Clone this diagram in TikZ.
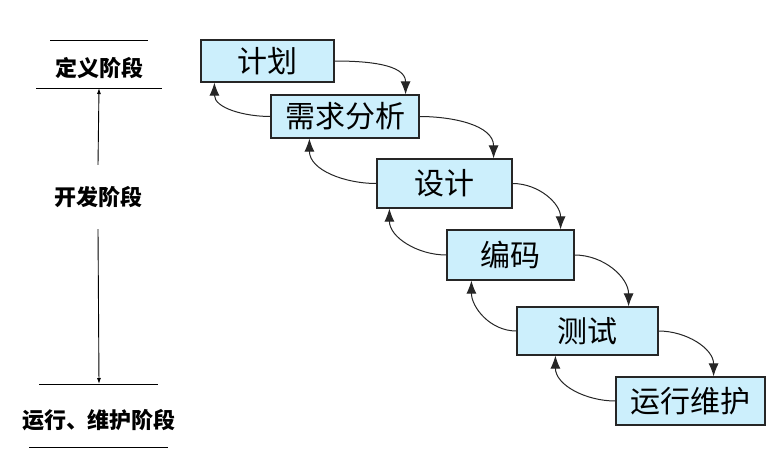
\documentclass[tikz,border=0pt]{standalone}
\usepackage{fontspec}
\setmainfont{Noto Sans CJK SC}
\usetikzlibrary{arrows.meta}

\begin{document}
\begin{tikzpicture}[x=1pt,y=-1pt,
        phase/.style={rectangle,draw=black!85,line width=1.2pt,fill=cyan!20,minimum height=46pt,
            font=\fontsize{30}{30}\selectfont},
        stage/.style={font=\fontsize{22}{22}\selectfont\bfseries},
        flow/.style={-{Latex[length=13pt,width=10pt]},line width=1pt,black!85},
        span/.style={-{Latex[length=6pt,width=4pt]},line width=0.9pt},
    ]
    \useasboundingbox (0,0) rectangle (766,475);
    % the phases
    \node[phase,minimum width=133pt,minimum height=42pt] (plan) at (267.5,61) {计划};
    \node[phase,minimum width=148pt,minimum height=43pt] (req) at (345,116.5) {需求分析};
    \node[phase,minimum width=135pt,minimum height=49pt] (design) at (444.5,183.5) {设计};
    \node[phase,minimum width=127pt,minimum height=50pt] (code) at (510.5,255) {编码};
    \node[phase,minimum width=141pt,minimum height=48pt] (test) at (587.5,331) {测试};
    \node[phase,minimum width=149pt,minimum height=48pt] (maint) at (690.5,401) {运行维护};
    % forward and back
    \foreach \a/\b/\s in {plan/req/14,req/design/19,design/code/14,code/test/30,test/maint/52}
        \draw[flow] (\a.east) to[out=0,in=90] ([xshift=-\s pt]\b.north east);
    \foreach \a/\b/\s in {req/plan/14,design/req/39,code/design/13,test/code/25,maint/test/39}
        \draw[flow] (\a.west) to[out=180,in=-90] ([xshift=\s pt]\b.south west);
    % stages on the left
    \node[stage] (define) at (99,68) {定义阶段};
    \node[stage,minimum height=64pt] (develop) at (98,197) {开发阶段};
    \node[stage] (operate) at (99,420) {运行、维护阶段};
    \coordinate (defbot) at (99,88);
    \coordinate (optop) at (99,384);
    \draw[line width=1pt] (50,40) -- (148,40);
    \draw[line width=1pt] (36,88) -- (162,88);
    \draw[line width=1pt] (39,384) -- (158,384);
    \draw[line width=1pt] (29,447) -- (168,447);
    \draw[span] (develop.north) -- (defbot);
    \draw[span] (develop.south) -- (optop);
\end{tikzpicture}
\end{document}
